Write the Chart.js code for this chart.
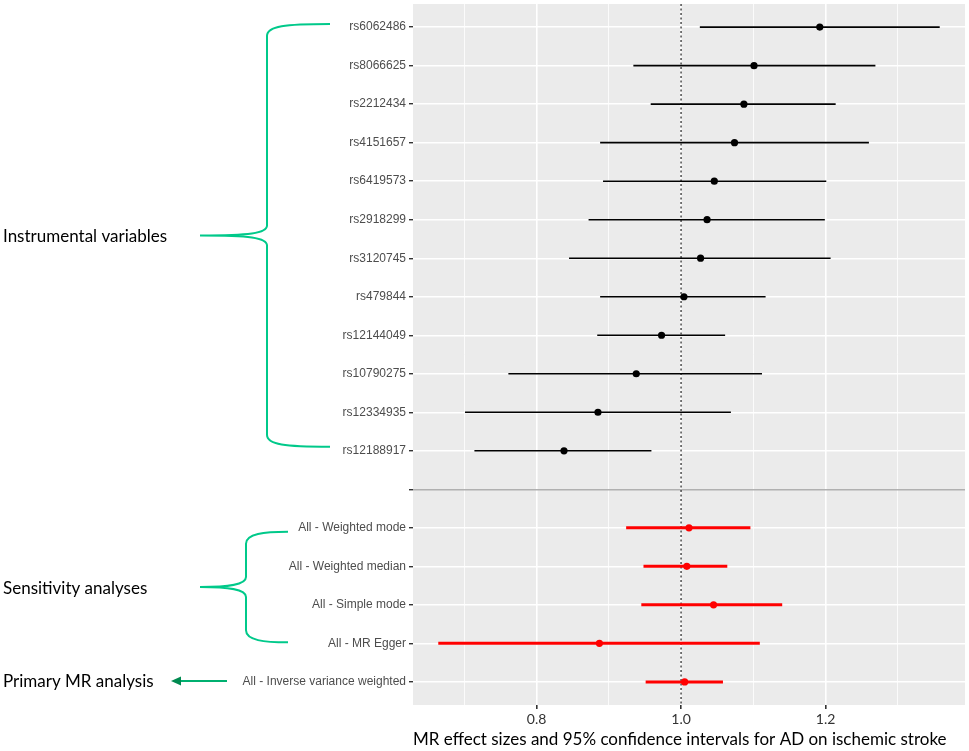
<!DOCTYPE html>
<html>
<head>
<meta charset="utf-8">
<title>MR forest plot</title>
<script src="https://cdn.jsdelivr.net/npm/chart.js@4.4.0/dist/chart.umd.min.js"></script>
<style>
    html, body { margin: 0; padding: 0; background: #fff; }
    #wrap { width: 969px; height: 751px; position: relative; }
</style>
</head>
<body>
<div id="wrap"><canvas id="mrChart"></canvas></div>
<script>
// Rows from top to bottom; the empty label is the spacer between SNPs and methods
const rowLabels = [
    'rs6062486', 'rs8066625', 'rs2212434', 'rs4151657', 'rs6419573', 'rs2918299',
    'rs3120745', 'rs479844', 'rs12144049', 'rs10790275', 'rs12334935', 'rs12188917',
    '',
    'All - Weighted mode', 'All - Weighted median', 'All - Simple mode',
    'All - MR Egger', 'All - Inverse variance weighted'
];
const estimates = [1.192, 1.101, 1.087, 1.074, 1.046, 1.036, 1.027, 1.004, 0.973, 0.938, 0.885, 0.838,
    null, 1.011, 1.008, 1.045, 0.887, 1.005];
const lowerCI = [1.026, 0.934, 0.958, 0.888, 0.892, 0.872, 0.845, 0.888, 0.884, 0.761, 0.701, 0.714,
    null, 0.924, 0.948, 0.945, 0.664, 0.951];
const upperCI = [1.358, 1.269, 1.214, 1.260, 1.201, 1.199, 1.207, 1.117, 1.061, 1.112, 1.069, 0.959,
    null, 1.096, 1.064, 1.140, 1.109, 1.058];
const xTicks = [0.7, 0.8, 0.9, 1.0, 1.1, 1.2, 1.3];
const xTickLabels = ['', '0.8', '', '1.0', '', '1.2', ''];
const nullEffect = 1.0;

document.addEventListener('DOMContentLoaded', function() {
    const spacerIndex = rowLabels.indexOf('');
    const isMethod = i => i > spacerIndex;
    const yMin = -0.6, yMax = rowLabels.length - 1 + 0.6;

    const datasets = [];

    // dotted reference line at OR = 1
    datasets.push({
        data: [{x: nullEffect, y: yMin}, {x: nullEffect, y: yMax}],
        showLine: true,
        borderColor: '#222',
        borderWidth: 1.2,
        borderDash: [2, 2.5],
        pointRadius: 0,
        order: 3
    });

    // confidence interval segments
    rowLabels.forEach((lab, i) => {
        if (estimates[i] === null) return;
        datasets.push({
            data: [{x: lowerCI[i], y: i}, {x: upperCI[i], y: i}],
            showLine: true,
            borderColor: isMethod(i) ? '#ff0000' : '#000',
            borderWidth: isMethod(i) ? 3 : 1.6,
            pointRadius: 0,
            order: 2
        });
    });

    // point estimates
    const pts = [];
    const ptColors = [];
    estimates.forEach((v, i) => {
        if (v === null) return;
        pts.push({x: v, y: i});
        ptColors.push(isMethod(i) ? '#ff0000' : '#000');
    });
    datasets.push({
        data: pts,
        pointRadius: 3.6,
        pointBackgroundColor: ptColors,
        pointBorderColor: ptColors,
        pointBorderWidth: 0,
        order: 1
    });

    const panelBg = {
        id: 'panelBg',
        beforeDraw(chart) {
            const {ctx, chartArea: a} = chart;
            ctx.save();
            ctx.fillStyle = '#ebebeb';
            ctx.fillRect(a.left, a.top, a.right - a.left, a.bottom - a.top);
            ctx.restore();
        }
    };

    function drawBrace(ctx, xEnd, xV, xTip, yTop, yMid, yBot) {
        ctx.beginPath();
        ctx.moveTo(xEnd, yTop);
        ctx.bezierCurveTo(xV + 18, yTop, xV, yTop + 2, xV, yTop + 12);
        ctx.lineTo(xV, yMid - 10);
        ctx.bezierCurveTo(xV, yMid - 2, xV - 18, yMid, xTip, yMid);
        ctx.moveTo(xTip, yMid);
        ctx.bezierCurveTo(xV - 18, yMid, xV, yMid + 2, xV, yMid + 10);
        ctx.lineTo(xV, yBot - 12);
        ctx.bezierCurveTo(xV, yBot - 2, xV + 18, yBot, xEnd, yBot);
        ctx.stroke();
    }

    const groupNotes = {
        id: 'groupNotes',
        afterDraw(chart) {
            const ctx = chart.ctx;
            const y = chart.scales.y;
            ctx.save();
            ctx.strokeStyle = '#00c98a';
            ctx.lineWidth = 2;

            // instrumental variables brace
            const ivTop = y.getPixelForValue(0) - 3;
            const ivBot = y.getPixelForValue(spacerIndex - 1) - 4;
            const ivMid = (ivTop + ivBot) / 2;
            drawBrace(ctx, 330, 267, 200, ivTop, ivMid, ivBot);

            // sensitivity analyses brace
            const saTop = y.getPixelForValue(spacerIndex + 1) + 4;
            const saBot = y.getPixelForValue(spacerIndex + 4) - 1;
            const saMid = (saTop + saBot) / 2;
            drawBrace(ctx, 288, 246, 200, saTop, saMid, saBot);

            // arrow to primary analysis
            const pY = y.getPixelForValue(rowLabels.length - 1) - 1;
            ctx.strokeStyle = '#00b070';
            ctx.beginPath();
            ctx.moveTo(227, pY);
            ctx.lineTo(178, pY);
            ctx.stroke();
            ctx.fillStyle = '#008a50';
            ctx.beginPath();
            ctx.moveTo(171, pY);
            ctx.lineTo(181, pY - 4.5);
            ctx.lineTo(181, pY + 4.5);
            ctx.closePath();
            ctx.fill();

            ctx.fillStyle = '#000';
            ctx.textBaseline = 'middle';
            ctx.textAlign = 'left';
            ctx.font = '17px Lato';
            ctx.fillText('Instrumental variables', 3, ivMid + 1);
            ctx.fillText('Sensitivity analyses', 3, saMid + 1);
            ctx.fillText('Primary MR analysis', 3, pY + 1);
            ctx.restore();
        }
    };

    new Chart(document.getElementById('mrChart'), {
        type: 'scatter',
        data: {datasets: datasets},
        plugins: [panelBg, groupNotes],
        options: {
            responsive: true,
            maintainAspectRatio: false,
            animation: false,
            layout: {padding: {top: 2, right: 2, left: 0, bottom: 0}},
            plugins: {legend: {display: false}, tooltip: {enabled: false}},
            scales: {
                x: {
                    type: 'linear',
                    min: 0.629,
                    max: 1.393,
                    afterBuildTicks: s => { s.ticks = xTicks.map(v => ({value: v})); },
                    afterFit: s => { s.height = 46; },
                    border: {display: false},
                    grid: {
                        color: '#fff',
                        lineWidth: c => (c.index % 2 === 1 ? 1.6 : 0.8),
                        tickColor: c => (c.index % 2 === 1 ? '#333' : 'rgba(0,0,0,0)'),
                        tickLength: 4
                    },
                    ticks: {
                        autoSkip: false,
                        maxRotation: 0,
                        padding: 2,
                        color: '#333',
                        font: {family: 'Lato', size: 14},
                        callback: (v, i) => xTickLabels[i]
                    },
                    title: {
                        display: true,
                        align: 'start',
                        text: 'MR effect sizes and 95% confidence intervals for AD on ischemic stroke',
                        color: '#000',
                        font: {family: 'Lato', size: 17},
                        padding: {top: 0, bottom: 1}
                    }
                },
                y: {
                    type: 'linear',
                    reverse: true,
                    min: yMin,
                    max: yMax,
                    afterBuildTicks: s => { s.ticks = rowLabels.map((_, i) => ({value: i})); },
                    afterFit: s => { s.width = 413; s.paddingTop = 0; s.paddingBottom = 0; },
                    border: {display: false},
                    grid: {
                        color: c => (c.index === spacerIndex ? '#b0b0b0' : '#fff'),
                        lineWidth: 1.4,
                        tickColor: '#333',
                        tickLength: 4
                    },
                    ticks: {
                        autoSkip: false,
                        padding: 3,
                        color: '#4d4d4d',
                        font: {family: 'Liberation Sans', size: 12},
                        callback: (v, i) => rowLabels[i]
                    }
                }
            }
        }
    });
});
</script>
</body>
</html>
